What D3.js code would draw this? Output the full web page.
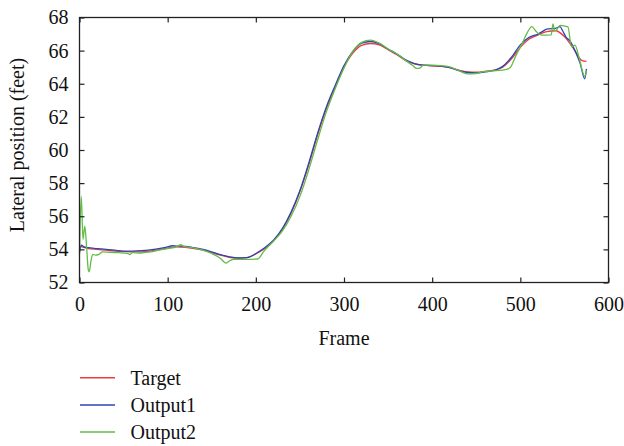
<!DOCTYPE html>
<html><head><meta charset="utf-8">
<script src="https://cdn.jsdelivr.net/npm/d3@7"></script>
<style>
html,body{margin:0;padding:0;background:#fff;}
svg{display:block;}
svg text{font-family:"Liberation Serif",LiberationSerif,Tinos,"Times New Roman",Times,"Noto Serif","DejaVu Serif",FreeSerif,serif !important;fill:#111;}
</style></head>
<body>
<svg id="chart" width="624" height="446"></svg>
<script>
// ---- data ----
const seriesNames = ["Target", "Output1", "Output2"];
const seriesColors = ["#ec3a3d", "#2c46b3", "#63bd47"];
const xTicks = [0, 100, 200, 300, 400, 500, 600];
const yTicks = [52, 54, 56, 58, 60, 62, 64, 66, 68];

const targetFrames = [0,10,20,30,40,50,60,70,80,90,100,110,120,130,140,150,160,170,180,190,200,210,220,230,240,250,260,270,280,290,300,310,320,330,340,350,360,370,380,390,400,410,420,430,440,450,460,470,480,490,500,510,520,530,540,550,560,570,575];
const targetValues = [54.2,54.05,54.0,53.95,53.9,53.87,53.85,53.85,53.9,53.98,54.08,54.15,54.12,54.05,53.95,53.8,53.65,53.52,53.47,53.5,53.72,54.05,54.5,55.2,56.2,57.5,59.1,60.9,62.5,63.8,65.0,65.85,66.32,66.43,66.35,66.05,65.75,65.4,65.2,65.12,65.08,65.05,64.97,64.82,64.72,64.7,64.75,64.82,65.0,65.5,66.2,66.7,66.95,67.15,67.2,66.85,66.15,65.4,65.35];

const output1Frames = [0,2,5,10,20,30,40,50,60,70,80,90,100,105,110,120,130,140,150,160,170,180,190,200,210,220,230,240,250,260,270,280,290,300,310,320,330,340,350,360,370,380,390,400,410,420,430,440,450,460,470,480,490,500,510,520,525,530,540,545,548,552,556,562,568,573,575];
const output1Values = [53.8,54.25,54.15,54.1,54.05,54.0,53.95,53.9,53.9,53.92,53.97,54.05,54.15,54.22,54.2,54.18,54.1,54.0,53.85,53.68,53.55,53.48,53.5,53.75,54.1,54.55,55.25,56.25,57.55,59.2,61.0,62.6,63.9,65.1,65.95,66.45,66.55,66.42,66.1,65.8,65.45,65.22,65.12,65.1,65.07,64.98,64.8,64.68,64.65,64.72,64.8,65.05,65.6,66.35,66.8,67.0,67.15,67.3,67.35,67.45,67.2,66.8,66.6,66.0,65.2,64.3,64.9];

const output2Frames = [0,2,4,6,8,10,11,13,15,18,22,26,35,45,55,57,60,70,80,90,100,110,115,118,130,140,150,160,166,170,175,190,202,210,220,230,240,250,260,270,280,290,300,310,320,330,340,350,360,370,378,382,386,390,400,410,420,430,440,450,460,470,480,488,495,503,508,513,518,524,535,537,539,541,545,554,558,562,567,573,575];
const output2Values = [53.7,57.2,54.6,55.4,54.2,52.75,52.65,53.3,53.7,53.65,53.7,53.85,53.82,53.8,53.75,53.68,53.8,53.78,53.85,53.95,54.05,54.15,54.28,54.18,54.08,53.95,53.75,53.45,53.17,53.3,53.4,53.4,53.42,53.95,54.5,55.1,56.0,57.2,58.8,60.6,62.3,63.7,64.95,65.95,66.5,66.63,66.45,66.1,65.8,65.4,65.1,64.93,64.95,65.12,65.12,65.1,65.02,64.8,64.6,64.62,64.75,64.78,64.82,64.95,65.7,66.53,67.1,67.45,67.15,66.93,66.95,67.62,67.2,67.25,67.53,67.43,66.25,66.33,65.5,64.45,64.8];

// ---- layout ----
const svg = d3.select("#chart");
const m = {left: 79.5, top: 17.5, right: 608.5, bottom: 282.5};
const x = d3.scaleLinear().domain([0, 600]).range([m.left, m.right]);
const y = d3.scaleLinear().domain([52, 68]).range([m.bottom, m.top]);
const fs = 20;

const seriesData = [
  targetFrames.map((f,i)=>[f, targetValues[i]]),
  output1Frames.map((f,i)=>[f, output1Values[i]]),
  output2Frames.map((f,i)=>[f, output2Values[i]])
];

const line = d3.line().x(d=>x(d[0])).y(d=>y(d[1])).curve(d3.curveMonotoneX);
seriesData.forEach((d,i)=>{
  svg.append("path").datum(d).attr("d", line)
    .attr("fill","none").attr("stroke", seriesColors[i]).attr("stroke-width",1.3)
    .attr("stroke-linejoin","round");
});

// axes with inward ticks
const tl = 5;
const bottomAxis = d3.axisBottom(x).tickValues(xTicks).tickSize(-tl).tickPadding(14).tickFormat(d3.format("d"));
const topAxis = d3.axisTop(x).tickValues(xTicks).tickSize(-tl).tickFormat("");
const leftAxis = d3.axisLeft(y).tickValues(yTicks).tickSize(-tl).tickPadding(11).tickFormat(d3.format("d"));
const rightAxis = d3.axisRight(y).tickValues(yTicks).tickSize(-tl).tickFormat("");

function style(g){
  g.attr("font-family", null).attr("font-size", null);
  g.select(".domain").remove();
  g.selectAll(".tick line").attr("stroke","#222").attr("stroke-width",1.2);
  g.selectAll("text").attr("font-size", fs).attr("fill","#111");
}
svg.append("g").attr("transform",`translate(0,${m.bottom})`).call(bottomAxis).call(style);
svg.append("g").attr("transform",`translate(0,${m.top})`).call(topAxis).call(style);
svg.append("g").attr("transform",`translate(${m.left},0)`).call(leftAxis).call(style);
svg.append("g").attr("transform",`translate(${m.right},0)`).call(rightAxis).call(style);

svg.append("rect").attr("x",m.left).attr("y",m.top)
  .attr("width",m.right-m.left).attr("height",m.bottom-m.top)
  .attr("fill","none").attr("stroke","#222").attr("stroke-width",1.3);

// axis titles
svg.append("text").attr("x",(m.left+m.right)/2).attr("y",345)
  .attr("text-anchor","middle").attr("font-size",fs).text("Frame");
svg.append("text").attr("transform","translate(24,145) rotate(-90)")
  .attr("text-anchor","middle").attr("font-size",fs).text("Lateral position (feet)");

// legend
const legY = [377.7, 405, 432];
seriesNames.forEach((n,i)=>{
  svg.append("line").attr("x1",80).attr("x2",115).attr("y1",legY[i]).attr("y2",legY[i])
    .attr("stroke",seriesColors[i]).attr("stroke-width",1.5);
  svg.append("text").attr("x",130.5).attr("y",legY[i]+6.8).attr("font-size",fs).text(n);
});
</script>
</body></html>
